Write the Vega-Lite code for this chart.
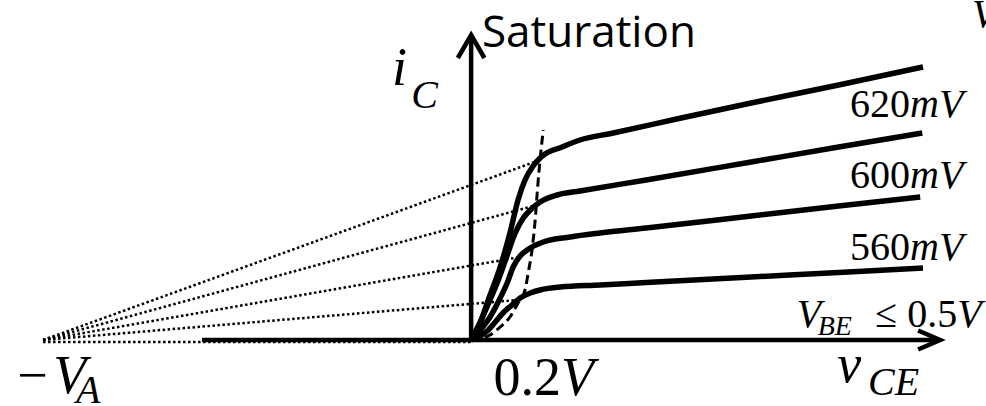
{
  "$schema": "https://vega.github.io/schema/vega-lite/v6.json",
  "width": 986,
  "height": 406,
  "padding": 0,
  "autosize": {"type": "none"},
  "background": "white",
  "config": {"view": {"stroke": null}},
  "datasets": {
    "asymptotes": [
      {"line": "d1", "v": -1.223, "i": 0}, {"line": "d1", "v": 0.197, "i": 1.80},
      {"line": "d2", "v": -1.223, "i": 0}, {"line": "d2", "v": 0.177, "i": 1.34},
      {"line": "d3", "v": -1.223, "i": 0}, {"line": "d3", "v": 0.14, "i": 0.83},
      {"line": "d4", "v": -1.223, "i": 0}, {"line": "d4", "v": 0.131, "i": 0.40},
      {"line": "d5", "v": -1.223, "i": -0.02}, {"line": "d5", "v": 0, "i": -0.02}
    ],
    "axes": [
      {"part": "x axis", "k": 0, "v": -0.769, "i": 0}, {"part": "x axis", "k": 1, "v": 1.334, "i": 0},
      {"part": "x arrow", "k": 0, "v": 1.277, "i": 0.095}, {"part": "x arrow", "k": 1, "v": 1.34, "i": 0}, {"part": "x arrow", "k": 2, "v": 1.277, "i": -0.095},
      {"part": "y axis", "k": 0, "v": 0, "i": 0}, {"part": "y axis", "k": 1, "v": 0, "i": 3.03},
      {"part": "y arrow", "k": 0, "v": -0.038, "i": 2.82}, {"part": "y arrow", "k": 1, "v": 0, "i": 3.05}, {"part": "y arrow", "k": 2, "v": 0.038, "i": 2.82}
    ],
    "curves": [
      {"series": "top", "v": 0, "i": 0}, {"series": "top", "v": 0.02, "i": 0.12}, {"series": "top", "v": 0.049, "i": 0.40},
      {"series": "top", "v": 0.083, "i": 0.73}, {"series": "top", "v": 0.111, "i": 1.07}, {"series": "top", "v": 0.134, "i": 1.40},
      {"series": "top", "v": 0.154, "i": 1.60}, {"series": "top", "v": 0.177, "i": 1.74}, {"series": "top", "v": 0.2, "i": 1.83},
      {"series": "top", "v": 0.26, "i": 1.93}, {"series": "top", "v": 0.311, "i": 2.00}, {"series": "top", "v": 0.406, "i": 2.07},
      {"series": "top", "v": 0.6, "i": 2.22}, {"series": "top", "v": 0.8, "i": 2.37}, {"series": "top", "v": 1.05, "i": 2.55},
      {"series": "top", "v": 1.291, "i": 2.73},
      {"series": "620mV", "v": 0, "i": 0}, {"series": "620mV", "v": 0.026, "i": 0.18}, {"series": "620mV", "v": 0.06, "i": 0.45},
      {"series": "620mV", "v": 0.083, "i": 0.65}, {"series": "620mV", "v": 0.103, "i": 0.85}, {"series": "620mV", "v": 0.126, "i": 1.07},
      {"series": "620mV", "v": 0.149, "i": 1.22}, {"series": "620mV", "v": 0.169, "i": 1.30}, {"series": "620mV", "v": 0.197, "i": 1.38},
      {"series": "620mV", "v": 0.246, "i": 1.45}, {"series": "620mV", "v": 0.311, "i": 1.49}, {"series": "620mV", "v": 0.5, "i": 1.60},
      {"series": "620mV", "v": 0.8, "i": 1.78}, {"series": "620mV", "v": 1.05, "i": 1.93}, {"series": "620mV", "v": 1.289, "i": 2.07},
      {"series": "600mV", "v": 0, "i": 0}, {"series": "600mV", "v": 0.031, "i": 0.12}, {"series": "600mV", "v": 0.054, "i": 0.23},
      {"series": "600mV", "v": 0.083, "i": 0.42}, {"series": "600mV", "v": 0.103, "i": 0.57}, {"series": "600mV", "v": 0.12, "i": 0.73},
      {"series": "600mV", "v": 0.14, "i": 0.84}, {"series": "600mV", "v": 0.16, "i": 0.90}, {"series": "600mV", "v": 0.206, "i": 0.98},
      {"series": "600mV", "v": 0.283, "i": 1.03}, {"series": "600mV", "v": 0.369, "i": 1.07}, {"series": "600mV", "v": 0.5, "i": 1.12},
      {"series": "600mV", "v": 0.8, "i": 1.24}, {"series": "600mV", "v": 1.05, "i": 1.34}, {"series": "600mV", "v": 1.283, "i": 1.43},
      {"series": "560mV", "v": 0, "i": 0}, {"series": "560mV", "v": 0.026, "i": 0.04}, {"series": "560mV", "v": 0.046, "i": 0.09},
      {"series": "560mV", "v": 0.069, "i": 0.18}, {"series": "560mV", "v": 0.091, "i": 0.27}, {"series": "560mV", "v": 0.117, "i": 0.35},
      {"series": "560mV", "v": 0.14, "i": 0.42}, {"series": "560mV", "v": 0.169, "i": 0.47}, {"series": "560mV", "v": 0.197, "i": 0.50},
      {"series": "560mV", "v": 0.254, "i": 0.53}, {"series": "560mV", "v": 0.369, "i": 0.55}, {"series": "560mV", "v": 0.5, "i": 0.574},
      {"series": "560mV", "v": 0.8, "i": 0.63}, {"series": "560mV", "v": 1.05, "i": 0.675}, {"series": "560mV", "v": 1.291, "i": 0.72}
    ],
    "boundary": [
      {"v": 0, "i": 0}, {"v": 0.026, "i": 0.01}, {"v": 0.054, "i": 0.05}, {"v": 0.083, "i": 0.13},
      {"v": 0.111, "i": 0.23}, {"v": 0.134, "i": 0.37}, {"v": 0.154, "i": 0.50}, {"v": 0.163, "i": 0.67},
      {"v": 0.174, "i": 0.90}, {"v": 0.183, "i": 1.20}, {"v": 0.191, "i": 1.57}, {"v": 0.206, "i": 2.10}
    ],
    "labels": [
      {"role": "heading", "text": "Saturation", "v": 0.031, "i": 2.93},
      {"role": "symbol", "text": "i", "v": -0.226, "i": 2.55},
      {"role": "symbol", "text": "v", "v": 1.046, "i": -0.42},
      {"role": "symbol", "text": "V", "v": -1.194, "i": -0.53},
      {"role": "symbol", "text": "V", "v": 0.257, "i": -0.55},
      {"role": "subscript", "text": "C", "v": -0.171, "i": 2.32},
      {"role": "subscript", "text": "CE", "v": 1.134, "i": -0.55},
      {"role": "subscript", "text": "A", "v": -1.129, "i": -0.63},
      {"role": "number", "text": "0.2", "v": 0.257, "i": -0.55},
      {"role": "number", "text": "−", "v": -1.21, "i": -0.53},
      {"role": "value", "text": "620", "v": 1.254, "i": 2.23},
      {"role": "value", "text": "600", "v": 1.254, "i": 1.52},
      {"role": "value", "text": "560", "v": 1.254, "i": 0.80},
      {"role": "value", "text": "≤ 0.5", "v": 1.389, "i": 0.13},
      {"role": "unit", "text": "mV", "v": 1.254, "i": 2.23},
      {"role": "unit", "text": "mV", "v": 1.254, "i": 1.52},
      {"role": "unit", "text": "mV", "v": 1.254, "i": 0.80},
      {"role": "unit", "text": "V", "v": 1.389, "i": 0.13},
      {"role": "unit", "text": "V", "v": 0.93, "i": 0.13},
      {"role": "unit", "text": "V", "v": 1.431, "i": 3.13},
      {"role": "small subscript", "text": "BE", "v": 0.99, "i": 0.05}
    ]
  },
  "encoding": {
    "x": {"field": "v", "type": "quantitative", "axis": null,
          "scale": {"domain": [-1.346, 1.471], "zero": false, "nice": false}},
    "y": {"field": "i", "type": "quantitative", "axis": null,
          "scale": {"domain": [-0.66, 3.4], "zero": false, "nice": false}}
  },
  "layer": [
    {
      "data": {"name": "asymptotes"},
      "mark": {"type": "line", "color": "black", "strokeWidth": 2.5, "strokeDash": [2.5, 2.5], "strokeCap": "butt"},
      "encoding": {"detail": {"field": "line"}}
    },
    {
      "data": {"name": "axes"},
      "mark": {"type": "line", "color": "black", "strokeWidth": 4.5, "strokeCap": "butt", "strokeJoin": "miter"},
      "encoding": {"detail": {"field": "part"}, "order": {"field": "k", "type": "quantitative"}}
    },
    {
      "data": {"name": "curves"},
      "mark": {"type": "line", "color": "black", "strokeWidth": 5.5, "interpolate": "monotone", "strokeCap": "butt", "strokeJoin": "round"},
      "encoding": {"detail": {"field": "series"}}
    },
    {
      "data": {"name": "boundary"},
      "mark": {"type": "line", "color": "black", "strokeWidth": 3, "strokeDash": [9, 5], "interpolate": "monotone"},
      "encoding": {}
    },
    {
      "data": {"name": "labels"},
      "transform": [{"filter": "datum.role === 'heading'"}],
      "mark": {"type": "text", "font": "Open Sans", "fontSize": 44, "align": "left", "baseline": "alphabetic", "color": "black"},
      "encoding": {"text": {"field": "text"}}
    },
    {
      "data": {"name": "labels"},
      "transform": [{"filter": "datum.role === 'symbol'"}],
      "mark": {"type": "text", "font": "Liberation Serif", "fontStyle": "italic", "fontSize": 54, "align": "left", "baseline": "alphabetic", "color": "black"},
      "encoding": {"text": {"field": "text"}}
    },
    {
      "data": {"name": "labels"},
      "transform": [{"filter": "datum.role === 'subscript'"}],
      "mark": {"type": "text", "font": "Liberation Serif", "fontStyle": "italic", "fontSize": 40, "align": "left", "baseline": "alphabetic", "color": "black"},
      "encoding": {"text": {"field": "text"}}
    },
    {
      "data": {"name": "labels"},
      "transform": [{"filter": "datum.role === 'number'"}],
      "mark": {"type": "text", "font": "Liberation Serif", "fontSize": 54, "align": "right", "baseline": "alphabetic", "color": "black"},
      "encoding": {"text": {"field": "text"}}
    },
    {
      "data": {"name": "labels"},
      "transform": [{"filter": "datum.role === 'value'"}],
      "mark": {"type": "text", "font": "Liberation Serif", "fontSize": 40, "align": "right", "baseline": "alphabetic", "color": "black"},
      "encoding": {"text": {"field": "text"}}
    },
    {
      "data": {"name": "labels"},
      "transform": [{"filter": "datum.role === 'unit'"}],
      "mark": {"type": "text", "font": "Liberation Serif", "fontStyle": "italic", "fontSize": 40, "align": "left", "baseline": "alphabetic", "color": "black"},
      "encoding": {"text": {"field": "text"}}
    },
    {
      "data": {"name": "labels"},
      "transform": [{"filter": "datum.role === 'small subscript'"}],
      "mark": {"type": "text", "font": "Liberation Serif", "fontStyle": "italic", "fontSize": 28, "align": "left", "baseline": "alphabetic", "color": "black"},
      "encoding": {"text": {"field": "text"}}
    }
  ]
}
